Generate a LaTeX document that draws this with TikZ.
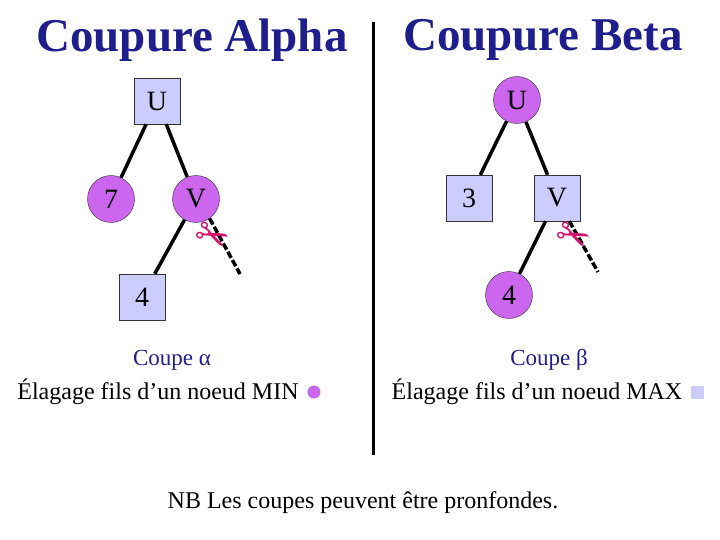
\documentclass[tikz,border=0pt]{standalone}
\usepackage{fontspec}
\setmainfont{Liberation Serif}
\newfontfamily\dejavu{DejaVu Sans}
\definecolor{sqb}{RGB}{204,204,255}
\definecolor{circp}{RGB}{204,102,238}
\definecolor{ttl}{RGB}{30,30,140}
\definecolor{scis}{RGB}{210,20,110}
\begin{document}
\begin{tikzpicture}[x=1pt,y=-1pt,
 sq/.style={draw=black!80,fill=sqb,minimum size=46pt,inner sep=0pt,font=\fontsize{28}{28}\selectfont},
 ci/.style={circle,draw=black!80,fill=circp,minimum size=47pt,inner sep=0pt,font=\fontsize{28}{28}\selectfont},
 ed/.style={line width=3.5pt},
 cut/.style={line width=3.5pt,dash pattern=on 7pt off 2.5pt},
 sc/.style={text=scis,font=\dejavu\fontsize{40}{40}\selectfont,inner sep=0pt}]
\useasboundingbox (0,0) rectangle (720,540);
\node[font=\bfseries\fontsize{47}{47}\selectfont,text=ttl] (t1) at (192,40) {Coupure Alpha};
\node[font=\bfseries\fontsize{47}{47}\selectfont,text=ttl] (t2) at (543,40) {Coupure Beta};
\coordinate (la) at (373,22); \coordinate (lb) at (373,455);
\draw[line width=3pt] (la) -- (lb);
% left tree
\node[sq] (u1) at (157,101) {U};
\node[ci] (s1) at (111,199) {7};
\node[ci] (v1) at (196,199) {V};
\node[sq] (f1) at (142,297) {4};
\coordinate (c1) at (240,274);
\draw[ed] (u1) -- (s1);
\draw[ed] (u1) -- (v1);
\draw[ed] (v1) -- (f1);
\draw[cut] (v1.-55) -- (c1);
\node[sc,rotate=-25] (k1) at (212,238) {✂};
% right tree
\node[ci] (u2) at (517,100) {U};
\node[sq] (s2) at (469,198) {3};
\node[sq] (v2) at (557,198) {V};
\node[ci] (f2) at (509,295) {4};
\coordinate (c2) at (598,272);
\draw[ed] (u2) -- (s2);
\draw[ed] (u2) -- (v2);
\draw[ed] (v2) -- (f2);
\draw[cut] (v2.-62) -- (c2);
\node[sc,rotate=-25] (k2) at (573,238) {✂};
% texts
\node[text=ttl,font=\fontsize{23}{23}\selectfont] (a1) at (172,360) {Coupe α};
\node[font=\fontsize{24}{24}\selectfont] (a2) at (158,392) {Élagage fils d’un noeud MIN};
\node[circle,fill=circp,minimum size=13pt,inner sep=0pt] (d1) at (314,392) {};
\node[text=ttl,font=\fontsize{23}{23}\selectfont] (b1) at (549,360) {Coupe β};
\node[font=\fontsize{24}{24}\selectfont] (b2) at (537,392) {Élagage fils d’un noeud MAX};
\node[fill=sqb,minimum size=13pt,inner sep=0pt] (d2) at (697,392) {};
\node[font=\fontsize{24}{24}\selectfont] (nb) at (363,503) {NB Les coupes peuvent être pronfondes.};
\end{tikzpicture}
\end{document}
